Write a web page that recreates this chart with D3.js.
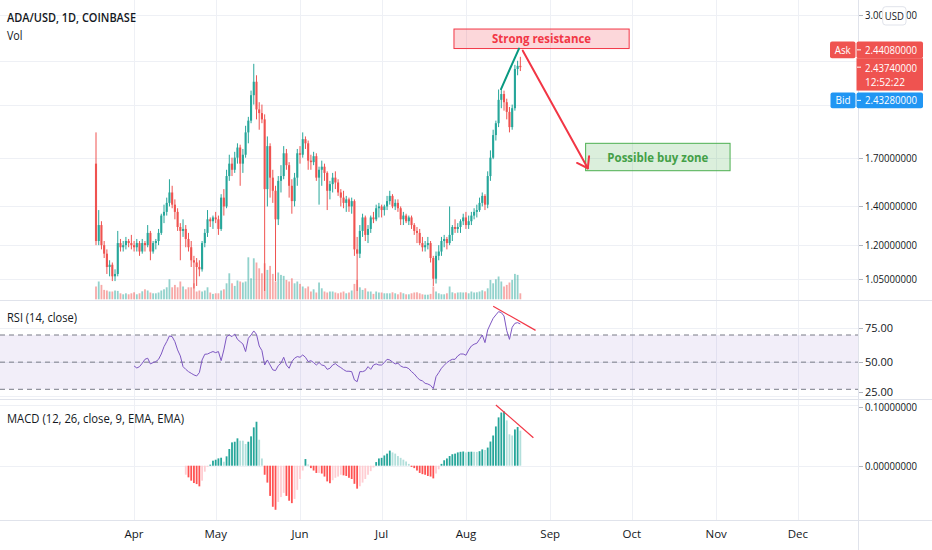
<!DOCTYPE html>
<html><head><meta charset="utf-8">
<script src="https://cdn.jsdelivr.net/npm/d3@7"></script>
<style>
html,body{margin:0;padding:0;background:#fff;}
svg{display:block;font-family:"Open Sans","Noto Sans",sans-serif;}
</style></head><body>
<svg id="chart" width="932" height="550"></svg>
<script>
// ---------- DATA (ADA/USD daily, Coinbase, from 2021-03-18) ----------
const startDate = Date.UTC(2021, 2, 18);
const opens = [1.66,1.22,1.30,1.20,1.16,1.10,1.11,1.06,1.07,1.21,1.19,1.20,1.22,1.21,
1.20,1.19,1.21,1.17,1.21,1.20,1.26,1.17,1.21,1.22,1.26,1.35,1.37,1.42,1.48,1.41,1.37,1.29,1.27,1.28,1.23,1.19,1.13,1.12,1.10,1.09,1.21,1.26,1.33,1.32,
1.34,1.33,1.28,1.45,1.40,1.58,1.66,1.62,1.70,1.77,1.66,1.72,1.88,1.97,2.18,2.30,2.06,2.03,1.98,1.50,1.78,1.57,1.49,1.33,1.55,1.58,1.73,1.65,1.52,1.43,1.57,
1.73,1.72,1.83,1.80,1.68,1.67,1.71,1.57,1.62,1.64,1.60,1.49,1.53,1.57,1.54,1.48,1.45,1.42,1.44,1.40,1.43,1.18,1.16,1.27,1.34,1.25,1.28,1.34,1.33,1.39,
1.40,1.38,1.40,1.43,1.46,1.40,1.42,1.39,1.33,1.35,1.32,1.34,1.30,1.27,1.26,1.21,1.19,1.20,1.21,1.14,1.05,1.15,1.17,1.22,1.23,1.21,1.25,1.29,1.28,1.29,1.32,
1.34,1.30,1.32,1.35,1.37,1.38,1.42,1.46,1.41,1.58,1.70,1.86,1.95,2.14,2.19,2.12,2.04,1.92,2.07,2.42,2.45];
const highs = [1.88,1.38,1.32,1.22,1.18,1.13,1.12,1.09,1.27,1.23,1.22,1.24,1.23,1.25,
1.22,1.23,1.22,1.23,1.22,1.30,1.27,1.22,1.23,1.28,1.36,1.41,1.45,1.56,1.52,1.44,1.39,1.31,1.33,1.30,1.26,1.22,1.15,1.14,1.13,1.22,1.28,1.38,1.34,1.35,
1.37,1.35,1.47,1.50,1.62,1.72,1.70,1.74,1.80,1.79,1.76,1.93,2.00,2.22,2.47,2.36,2.12,2.10,2.02,1.85,1.80,1.62,1.52,1.58,1.65,1.78,1.76,1.67,1.56,1.60,1.76,
1.78,1.88,1.85,1.82,1.72,1.74,1.73,1.64,1.68,1.66,1.61,1.55,1.60,1.61,1.56,1.50,1.49,1.46,1.45,1.45,1.44,1.24,1.30,1.36,1.35,1.30,1.35,1.37,1.41,1.42,
1.41,1.41,1.46,1.49,1.47,1.44,1.44,1.40,1.37,1.36,1.35,1.35,1.31,1.29,1.28,1.24,1.22,1.24,1.22,1.15,1.17,1.20,1.24,1.25,1.24,1.40,1.30,1.33,1.31,1.33,1.36,
1.37,1.35,1.37,1.39,1.41,1.45,1.48,1.47,1.61,1.75,1.90,1.97,2.23,2.24,2.22,2.15,2.08,2.10,2.46,2.50,2.54];
const lows = [1.20,1.20,1.18,1.14,1.07,1.06,1.04,1.04,1.06,1.17,1.17,1.18,1.19,1.18,
1.17,1.17,1.15,1.16,1.17,1.19,1.13,1.16,1.18,1.20,1.25,1.31,1.35,1.40,1.39,1.33,1.27,1.13,1.24,1.19,1.17,1.10,1.01,1.02,1.06,1.08,1.19,1.24,1.29,1.28,
1.31,1.25,1.27,1.35,1.39,1.55,1.58,1.60,1.66,1.52,1.60,1.70,1.80,1.95,2.10,1.98,1.90,1.95,1.00,1.40,1.45,1.42,1.04,1.30,1.48,1.56,1.62,1.45,1.36,1.40,1.52,
1.66,1.70,1.76,1.62,1.62,1.65,1.55,1.41,1.52,1.55,1.38,1.44,1.48,1.50,1.46,1.40,1.39,1.37,1.37,1.36,1.15,1.00,1.14,1.24,1.22,1.21,1.26,1.31,1.32,1.34,
1.34,1.35,1.38,1.41,1.39,1.38,1.37,1.30,1.30,1.31,1.30,1.28,1.25,1.21,1.20,1.17,1.17,1.18,1.12,1.02,1.03,1.13,1.15,1.19,1.18,1.20,1.22,1.26,1.26,1.26,1.30,
1.28,1.28,1.30,1.33,1.34,1.37,1.40,1.38,1.39,1.55,1.69,1.82,1.92,2.07,2.05,1.98,1.88,1.90,2.05,2.36,2.40];
const closes = [1.22,1.30,1.20,1.16,1.10,1.11,1.06,1.07,1.21,1.19,1.20,1.22,1.21,1.20,
1.19,1.21,1.17,1.21,1.20,1.26,1.17,1.21,1.22,1.26,1.35,1.37,1.42,1.48,1.41,1.37,1.29,1.27,1.28,1.23,1.19,1.13,1.12,1.10,1.09,1.21,1.26,1.33,1.32,1.34,
1.33,1.28,1.45,1.40,1.58,1.66,1.62,1.70,1.77,1.66,1.72,1.88,1.97,2.18,2.30,2.06,2.03,1.98,1.50,1.78,1.57,1.49,1.33,1.55,1.58,1.73,1.65,1.52,1.43,1.57,1.73,
1.72,1.83,1.80,1.68,1.67,1.71,1.57,1.62,1.64,1.60,1.49,1.53,1.57,1.54,1.48,1.45,1.42,1.44,1.40,1.43,1.18,1.16,1.27,1.34,1.25,1.28,1.34,1.33,1.39,1.40,
1.38,1.40,1.43,1.46,1.40,1.42,1.39,1.33,1.35,1.32,1.34,1.30,1.27,1.26,1.21,1.19,1.20,1.21,1.14,1.05,1.15,1.17,1.22,1.23,1.21,1.25,1.29,1.28,1.29,1.32,1.34,
1.30,1.32,1.35,1.37,1.38,1.42,1.46,1.41,1.58,1.70,1.86,1.95,2.14,2.19,2.12,2.04,1.92,2.07,2.42,2.45,2.4374];
const volumes = [64,89,72,47,44,39,39,44,42,30,25,30,25,30,
35,25,30,40,50,44,34,30,30,34,44,50,60,100,60,72,60,89,64,50,60,60,80,39,44,39,44,60,34,27,
30,30,44,50,80,130,80,67,94,89,84,89,210,105,205,184,155,130,180,147,167,127,89,134,122,117,97,89,105,80,89,
77,64,55,64,39,50,34,84,55,39,34,39,39,34,30,34,39,30,34,44,77,97,60,47,55,39,39,27,39,34,
34,30,30,30,35,30,25,35,30,25,25,30,34,35,30,25,23,23,27,64,39,30,25,25,30,64,35,30,34,35,34,
35,30,39,34,35,39,45,40,55,97,80,100,114,89,64,72,84,97,127,122,30];

const rsiStart = 14;
const rsiValues = [47.2,45.7,46.7,49.2,52.1,52.9,48.7,49.7,50.4,52.1,
56.0,61.4,65.1,69.3,68.8,65.1,59.0,54.6,46.7,44.7,
43.0,41.8,40.6,39.8,42.3,51.6,55.8,56.0,57.0,57.8,
57.0,57.8,51.1,59.0,68.8,70.0,68.8,70.8,66.8,65.1,
63.4,57.8,67.6,70.0,73.0,70.5,61.9,58.5,47.9,51.6,
47.9,44.3,43.8,47.4,49.2,53.6,47.9,45.5,50.4,52.9,
54.1,53.6,55.3,53.6,50.4,51.1,49.7,47.9,49.7,47.9,
47.4,44.7,45.5,47.9,48.9,47.2,46.0,44.5,43.3,43.3,
43.0,36.9,35.6,43.0,43.0,43.8,46.7,44.7,47.9,48.7,
47.9,47.9,49.7,52.1,51.6,50.1,48.7,49.2,47.2,46.2,
46.2,45.2,43.0,41.3,38.9,36.9,36.2,34.4,33.9,32.9,
30.5,39.3,42.3,45.5,47.7,49.7,51.1,52.1,52.1,54.6,
56.0,56.0,55.1,59.0,61.9,63.2,63.9,66.8,70.0,64.4,
73.7,78.1,82.3,84.8,87.2,86.5,84.0,73.2,66.8,75.7,
78.6,79.1,78.1];

const macdStart = 33;
const macdHist = [-0.0149,-0.0193,-0.0248,-0.0287,-0.0304,-0.0342,-0.0248,-0.0099,-0.0017,0.0017,
0.0083,0.0099,0.0121,0.0132,0.0066,0.0155,0.0276,0.0386,0.0397,0.0453,
0.0414,0.0414,0.0359,0.0397,0.0486,0.0635,0.0728,0.0430,0.0120,-0.015,
-0.028,-0.050,-0.068,-0.073,-0.060,-0.052,-0.045,-0.050,-0.058,-0.062,
-0.055,-0.040,-0.022,-0.008,0.011,0.002,-0.004,-0.008,-0.012,-0.012,
-0.013,-0.018,-0.026,-0.029,-0.024,-0.020,-0.018,-0.015,-0.016,-0.017,
-0.020,-0.022,-0.030,-0.038,-0.034,-0.028,-0.022,-0.015,-0.009,-0.003,
0.006,0.012,0.013,0.017,0.020,0.025,0.022,0.020,0.016,0.013,
0.010,0.007,0.003,-0.002,-0.004,-0.008,-0.012,-0.014,-0.015,-0.017,
-0.018,-0.021,-0.013,-0.006,0.003,0.009,0.012,0.016,0.019,0.020,
0.022,0.023,0.0235,0.022,0.023,0.0232,0.023,0.0228,0.024,0.027,
0.026,0.030,0.040,0.050,0.065,0.080,0.088,0.090,0.075,0.052,
0.050,0.060,0.064,0.058];

const priceGridTicks = [1.05, 1.2, 1.4, 1.7, 2.1, 2.5, 3.0];
const priceLabelTicks = [1.05, 1.2, 1.4, 1.7, 3.0];
const rsiBands = [30, 50, 70];
const rsiTicks = [75, 50, 25];
const macdTicks = [0.1, 0];
const monthLabels = ["Apr","May","Jun","Jul","Aug","Sep","Oct","Nov","Dec"];
const askPrice = 2.4408, lastPrice = 2.4374, bidPrice = 2.4328, countdown = "12:52:22";

// drawings (day index from start, price / indicator value)
const resistBox = {i0:131.6, i1:196, p0:2.625, p1:2.837, text:"Strong resistance"};
const buyBox = {i0:180, i1:233.1, p0:1.614, p1:1.800, text:"Possible buy zone"};
const greenLine = [{i:148.9, p:2.234}, {i:155.5, p:2.625}];
const redArrow = [{i:156.9, p:2.603}, {i:180.8, p:1.630}];
const rsiTrend = [{i:146, v:91.2}, {i:161.6, v:73.4}];
const macdTrend = [{i:147, v:0.1005}, {i:160.8, v:0.0464}];

// ---------- LAYOUT ----------
const W = 932, H = 550, axisX = 858;
const panes = {main:[0,300], rsi:[301,399], macd:[400,520]};
const UP = "#26a69a", DOWN = "#ef5350";
const DAY = 86400000;

const svg = d3.select("#chart");
const x = d3.scaleUtc().domain([new Date(startDate), new Date(Date.UTC(2021,11,1))]).range([96, 797.8]);
const xd = i => x(new Date(startDate + i*DAY));
const yP = d3.scaleLog().domain([1.05, 3.0]).range([278.7, 15]);
const yV = d3.scaleLinear().domain([0, 210]).range([299.3, 257.3]);
const yR = d3.scaleLinear().domain([30, 70]).range([389.3, 335]);
const yM = d3.scaleLinear().domain([0, 0.1]).range([465.7, 405.3]);

const defs = svg.append("defs");
Object.entries(panes).forEach(([k,[a,b]]) => {
  defs.append("clipPath").attr("id","clip-"+k).append("rect")
    .attr("x",0).attr("y",a).attr("width",axisX).attr("height",b-a);
});
defs.append("clipPath").attr("id","clip-usd").append("path")
  .attr("d","M858,0H882.7V30H858Z M906,0H932V30H906Z");

// grid
const grid = svg.append("g").attr("stroke","#eef0f5").attr("stroke-width",1);
const months = d3.utcMonth.range(new Date(Date.UTC(2021,3,1)), new Date(Date.UTC(2021,11,2)));
months.forEach(m => {
  const xx = Math.round(x(m))+0.5;
  grid.append("line").attr("x1",xx).attr("x2",xx).attr("y1",0).attr("y2",520);
});
priceGridTicks.forEach(p => {
  const yy = Math.round(yP(p))+0.5;
  grid.append("line").attr("x1",0).attr("x2",axisX).attr("y1",yy).attr("y2",yy);
});
rsiTicks.forEach(v => {
  const yy = Math.round(yR(v))+0.5;
  if (yy < 398) grid.append("line").attr("x1",0).attr("x2",axisX).attr("y1",yy).attr("y2",yy);
});
macdTicks.forEach(v => {
  const yy = Math.round(yM(v))+0.5;
  grid.append("line").attr("x1",0).attr("x2",axisX).attr("y1",yy).attr("y2",yy);
});

// ---------- main pane ----------
const main = svg.append("g").attr("clip-path","url(#clip-main)");
const idx = d3.range(closes.length);
main.append("g").selectAll("rect").data(idx).join("rect")
  .attr("x", i => xd(i)-0.9).attr("width",1.8)
  .attr("y", i => yV(volumes[i])).attr("height", i => yV(0)-yV(volumes[i]))
  .attr("fill", i => closes[i] >= opens[i] ? "rgba(38,166,154,0.5)" : "rgba(239,83,80,0.5)");
const cg = main.append("g");
cg.selectAll("line").data(idx).join("line")
  .attr("x1", i => xd(i)).attr("x2", i => xd(i))
  .attr("y1", i => yP(highs[i])).attr("y2", i => yP(lows[i]))
  .attr("stroke", i => closes[i] >= opens[i] ? UP : DOWN).attr("stroke-width",1);
cg.selectAll("rect").data(idx).join("rect")
  .attr("x", i => xd(i)-1.05).attr("width",2.1)
  .attr("y", i => yP(Math.max(opens[i],closes[i])))
  .attr("height", i => Math.max(1, Math.abs(yP(opens[i])-yP(closes[i]))))
  .attr("fill", i => closes[i] >= opens[i] ? UP : DOWN);

// drawings
const dr = svg.append("g");
function boxDraw(b, fill, stroke, textColor, tl) {
  const x0 = xd(b.i0), x1 = xd(b.i1), y0 = yP(b.p1), y1 = yP(b.p0);
  dr.append("rect").attr("x",x0).attr("y",y0).attr("width",x1-x0).attr("height",y1-y0)
    .attr("fill",fill).attr("stroke",stroke).attr("stroke-width",1);
  dr.append("text").attr("x",(x0+x1)/2).attr("y",(y0+y1)/2+4.5).attr("text-anchor","middle")
    .attr("font-size",12.5).attr("font-weight",700).attr("fill",textColor)
    .attr("textLength",tl).attr("lengthAdjust","spacingAndGlyphs").text(b.text);
}
boxDraw(resistBox, "rgba(242,54,69,0.2)", "#f23645", "#f23645", 99);
boxDraw(buyBox, "rgba(76,175,80,0.2)", "#4caf50", "#43a047", 101);
dr.append("line").attr("x1",xd(greenLine[0].i)).attr("y1",yP(greenLine[0].p))
  .attr("x2",xd(greenLine[1].i)).attr("y2",yP(greenLine[1].p))
  .attr("stroke","#089981").attr("stroke-width",2).attr("stroke-linecap","round");
{
  const ax0 = xd(redArrow[0].i), ay0 = yP(redArrow[0].p), ax1 = xd(redArrow[1].i), ay1 = yP(redArrow[1].p);
  dr.append("line").attr("x1",ax0).attr("y1",ay0).attr("x2",ax1).attr("y2",ay1)
    .attr("stroke","#f23645").attr("stroke-width",2).attr("stroke-linecap","round");
  const L = Math.hypot(ax1-ax0, ay1-ay0), ux = (ax0-ax1)/L, uy = (ay0-ay1)/L;
  [35,-35].forEach(deg => {
    const t = deg*Math.PI/180, c = Math.cos(t), s = Math.sin(t);
    const vx = ux*c - uy*s, vy = ux*s + uy*c;
    dr.append("line").attr("x1",ax1).attr("y1",ay1).attr("x2",ax1+12*vx).attr("y2",ay1+12*vy)
      .attr("stroke","#f23645").attr("stroke-width",2).attr("stroke-linecap","round");
  });
}

// ---------- RSI pane ----------
const rsiG = svg.append("g").attr("clip-path","url(#clip-rsi)");
rsiG.append("rect").attr("x",0).attr("width",axisX).attr("y",yR(70)).attr("height",yR(30)-yR(70))
  .attr("fill","rgba(126,87,194,0.1)");
rsiBands.forEach(v => {
  rsiG.append("line").attr("x1",0).attr("x2",axisX).attr("y1",yR(v)).attr("y2",yR(v))
    .attr("stroke","#787b86").attr("stroke-width",1).attr("stroke-dasharray","5,4");
});
rsiG.append("path").datum(rsiValues)
  .attr("d", d3.line().x((v,k) => xd(k+rsiStart)).y(v => yR(v)))
  .attr("fill","none").attr("stroke","#7e57c2").attr("stroke-width",1);
rsiG.append("line").attr("x1",xd(rsiTrend[0].i)).attr("y1",yR(rsiTrend[0].v))
  .attr("x2",xd(rsiTrend[1].i)).attr("y2",yR(rsiTrend[1].v)).attr("stroke","#f23645").attr("stroke-width",1.2);

// ---------- MACD pane ----------
const macdG = svg.append("g").attr("clip-path","url(#clip-macd)");
macdG.selectAll("rect").data(macdHist).join("rect")
  .attr("x",(v,k) => xd(k+macdStart)-0.9).attr("width",1.8)
  .attr("y", v => Math.min(yM(v), yM(0))).attr("height", v => Math.max(0.8, Math.abs(yM(v)-yM(0))))
  .attr("fill", (v,k) => {
    const prev = k > 0 ? macdHist[k-1] : v;
    if (v >= 0) return v > prev ? "#26a69a" : "#b2dfdb";
    return v < prev ? "#ff5252" : "#ffcdd2";
  });
macdG.append("line").attr("x1",xd(macdTrend[0].i)).attr("y1",yM(macdTrend[0].v))
  .attr("x2",xd(macdTrend[1].i)).attr("y2",yM(macdTrend[1].v)).attr("stroke","#f23645").attr("stroke-width",1.2);

// separators / axes lines
const sep = svg.append("g").attr("stroke","#e0e3eb").attr("stroke-width",1);
sep.append("line").attr("x1",0).attr("x2",W).attr("y1",300.5).attr("y2",300.5);
sep.append("line").attr("x1",0).attr("x2",W).attr("y1",399.5).attr("y2",399.5);
sep.append("line").attr("x1",0).attr("x2",W).attr("y1",520.5).attr("y2",520.5);
sep.append("line").attr("x1",axisX+0.5).attr("x2",axisX+0.5).attr("y1",0).attr("y2",H);

// ---------- axis labels ----------
const lab = svg.append("g").attr("font-size",11.5).attr("fill","#131722");
function axisLabel(yc, txt, clip, fs) {
  lab.append("line").attr("x1",axisX+1).attr("x2",axisX+5).attr("y1",Math.round(yc)+0.5).attr("y2",Math.round(yc)+0.5)
    .attr("stroke","#b2b5be");
  const t = lab.append("text").attr("x",865).attr("y",yc+4).text(txt)
    .attr("textLength", txt.length >= 10 ? 52 : txt.length*5.6).attr("lengthAdjust","spacingAndGlyphs");
  if (fs) t.attr("font-size", fs);
  if (clip) t.attr("clip-path","url(#clip-usd)");
}
priceLabelTicks.forEach(p => axisLabel(yP(p), p.toFixed(8), p === 3.0));
rsiTicks.forEach(v => axisLabel(Math.min(yR(v), 392), v.toFixed(2), false, v === 25 ? 11 : null));
macdTicks.forEach(v => axisLabel(Math.max(yM(v), 407), v.toFixed(8), false, v === 0.1 ? 11 : null));

// month labels
const ml = svg.append("g").attr("font-size",11.5).attr("fill","#131722").attr("text-anchor","middle");
months.forEach((m,k) => ml.append("text").attr("x",x(m)).attr("y",537.5).text(monthLabels[k]));

// USD box
svg.append("rect").attr("x",882.7).attr("y",6.7).attr("width",23.3).attr("height",18.3).attr("rx",3)
  .attr("fill","#fff").attr("stroke","#e0e3eb");
svg.append("text").attr("x",894.3).attr("y",19.8).attr("text-anchor","middle").attr("font-size",11.5)
  .attr("fill","#131722").attr("textLength",19).attr("lengthAdjust","spacingAndGlyphs").text("USD");

// price labels (ask / last / bid)
const pl = svg.append("g").attr("font-size",11.5).attr("fill","#fff");
const yLast = yP(lastPrice);
const boxTop = yLast - 9, boxBot = yLast + 23.4;
function tagBox(x0, y0, w, h, fill, txt, tx, anchor, tl) {
  pl.append("rect").attr("x",x0).attr("y",y0).attr("width",w).attr("height",h).attr("fill",fill).attr("rx",2);
  pl.append("text").attr("x",tx).attr("y",y0+h/2+4).attr("text-anchor",anchor).text(txt)
    .attr("textLength",tl).attr("lengthAdjust","spacingAndGlyphs");
}
tagBox(830, boxTop-16.6, 25.5, 16.6, "#ef5350", "Ask", 842.7, "middle", 16);
tagBox(856.5, boxTop-16.6, 66.5, 16.6, "#ef5350", askPrice.toFixed(8), 865, "start", 52);
pl.append("rect").attr("x",856.5).attr("y",boxTop).attr("width",66.5).attr("height",boxBot-boxTop).attr("fill","#ef5350");
pl.append("text").attr("x",865).attr("y",yLast+5).text(lastPrice.toFixed(8)).attr("textLength",52).attr("lengthAdjust","spacingAndGlyphs");
pl.append("text").attr("x",865).attr("y",yLast+18.5).text(countdown).attr("textLength",40).attr("lengthAdjust","spacingAndGlyphs");
tagBox(830.5, boxBot+2, 25, 15.6, "#2196f3", "Bid", 843, "middle", 15);
tagBox(856.5, boxBot+2, 66.5, 15.6, "#2196f3", bidPrice.toFixed(8), 865, "start", 52);
[boxTop-8.3, yLast, boxBot+9.8].forEach(yy => pl.append("line").attr("x1",857).attr("x2",861)
  .attr("y1",yy).attr("y2",yy).attr("stroke","#fff"));

// legends
const lg = svg.append("g").attr("fill","#131722");
lg.append("text").attr("x",7).attr("y",21.5).attr("font-size",13).attr("font-weight",600)
  .attr("textLength",129).attr("lengthAdjust","spacingAndGlyphs").text("ADA/USD, 1D, COINBASE");
lg.append("text").attr("x",7).attr("y",39.5).attr("font-size",13)
  .attr("textLength",15.5).attr("lengthAdjust","spacingAndGlyphs").text("Vol");
lg.append("text").attr("x",7).attr("y",322).attr("font-size",12.5)
  .attr("textLength",70).attr("lengthAdjust","spacingAndGlyphs").text("RSI (14, close)");
lg.append("text").attr("x",7).attr("y",422.5).attr("font-size",12.5)
  .attr("textLength",177).attr("lengthAdjust","spacingAndGlyphs").text("MACD (12, 26, close, 9, EMA, EMA)");
</script>
</body></html>
